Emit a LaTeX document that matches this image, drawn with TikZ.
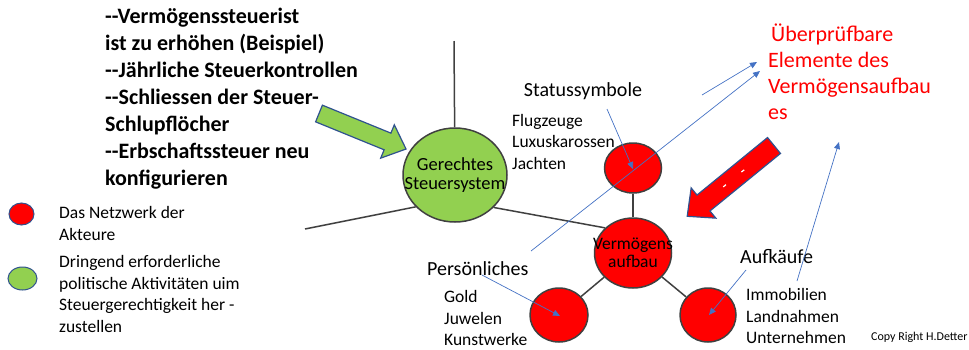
\documentclass[tikz,border=0pt]{standalone}
\usepackage{fontspec}
\setmainfont{Carlito}
\usetikzlibrary{shapes.geometric,arrows.meta}

\definecolor{netzred}{RGB}{255,0,0}
\definecolor{aktgreen}{RGB}{146,208,80}
\definecolor{rimgray}{RGB}{64,64,64}
\definecolor{ptrblue}{RGB}{68,114,196}
\definecolor{arrowrim}{RGB}{47,82,143}

\begin{document}
\begin{tikzpicture}[x=1pt, y=-1pt,
  ball/.style={ellipse, draw=rimgray, line width=1.5pt, inner sep=0pt},
  redball/.style={ball, fill=netzred},
  greenball/.style={ball, fill=aktgreen},
  balltext/.style={align=center, inner sep=0pt, font=\fontsize{#1}{18.5}\selectfont},
  keyball/.style={ellipse, draw=arrowrim, line width=1pt, inner sep=0pt},
  link/.style={draw=rimgray, line width=1.5pt},
  pointer/.style={draw=ptrblue, line width=0.7pt, -{Triangle[length=7pt,width=6pt]}},
  bigtext/.style={font=\fontsize{20}{24}\selectfont, inner sep=0pt},
  smalltext/.style={font=\fontsize{17.5}{21.5}\selectfont, align=left, anchor=west, inner sep=0pt},
  blockarrow/.style={draw=arrowrim, line width=1.2pt, line join=miter}]
    \useasboundingbox (0,0) rectangle (969,349);

    % Knoten
    \node[greenball, minimum width=104pt, minimum height=94pt,
      label={[balltext=18.5]center:Gerechtes\\Steuersystem}] (gerecht) at (455,175) {};
    \node[redball, minimum width=57pt, minimum height=50pt] (status) at (633,168) {};
    \node[redball, minimum width=77pt, minimum height=70pt,
      label={[balltext=17.5]center:Vermögens\\aufbau}] (verm) at (633,253) {};
    \node[redball, minimum width=58pt, minimum height=54pt] (pers) at (559,315) {};
    \node[redball, minimum width=56pt, minimum height=54pt] (auf) at (708,315) {};

    \coordinate (topend) at (454,41);
    \coordinate (leftend) at (305,229);

    \draw[link] (gerecht) -- (topend);
    \draw[link] (gerecht.219) -- (leftend);
    \draw[link] (gerecht.320) -- (verm.138);
    \draw[link] (status) -- (verm);
    \draw[link] (verm) -- (pers);
    \draw[link] (verm) -- (auf);

    % Legende
    \node[keyball, fill=netzred, minimum width=25pt, minimum height=22pt] (keyred) at (21.5,214) {};
    \node[keyball, fill=aktgreen, minimum width=29pt, minimum height=23pt] (keygreen) at (22.5,278.5) {};
    \node[smalltext] (keyredtxt) at (59,223.5) {Das Netzwerk der\\Akteure};
    \node[smalltext] (keygreentxt) at (59,294) {Dringend erforderliche\\politische Aktivitäten uim\\Steuergerechtigkeit her -\\zustellen};

    % Forderungen
    \node[font=\bfseries\fontsize{22}{27}\selectfont, align=left, anchor=west, inner sep=0pt] (forder) at (105,99)
      {-{}-Vermögenssteuerist\\ist zu erhöhen (Beispiel)\\-{}-Jährliche Steuerkontrollen\\-{}-Schliessen der Steuer-\\Schlupflöcher\\-{}-Erbschaftssteuer neu\\konfigurieren};
    \node[font=\fontsize{22}{26}\selectfont, text=netzred, align=left, anchor=west, inner sep=0pt] (pruef) at (768,71.5)
      {\hspace{3pt}Überprüfbare\\Elemente des\\Vermögensaufbau\\es};

    % Beschriftungen
    \node[bigtext] (statuslbl) at (583,91) {Statussymbole};
    \node[smalltext] (statuslist) at (512,141.5) {Flugzeuge\\Luxuskarossen\\Jachten};
    \node[bigtext, anchor=west] (perslbl) at (427,269) {Persönliches};
    \node[smalltext] (perslist) at (444,318) {Gold\\Juwelen\\Kunstwerke};
    \node[bigtext, anchor=west] (auflbl) at (740,257) {Aufkäufe};
    \node[smalltext] (auflist) at (746,316) {Immobilien\\Landnahmen\\Unternehmen};
    \node[font=\fontsize{12}{14}\selectfont, anchor=west, inner sep=0pt] (copy) at (871,337) {Copy Right H.Detter};

    % Blockpfeile
    \begin{scope}[shift={(319,113.5)}, rotate=-22.2]
      \draw[blockarrow, fill=aktgreen] (0,-9) -- (74,-9) -- (74,-18) -- (94,0) -- (74,18) -- (74,9) -- (0,9) -- cycle;
    \end{scope}
    \begin{scope}[shift={(774,145.5)}, rotate=219.2]
      \draw[blockarrow, fill=netzred] (0,-10.25) -- (91,-10.25) -- (91,-19.5) -- (112,0) -- (91,19.5) -- (91,10.25) -- (0,10.25) -- cycle;
      \draw[white, line width=1.2pt] (38.5,0) -- (42,0);
      \draw[white, line width=1.2pt] (62,0) -- (65.5,0);
    \end{scope}

    % Hinweispfeile
    \coordinate (p1a) at (702,95);  \coordinate (p1b) at (757,62);
    \coordinate (p2a) at (531,251); \coordinate (p2b) at (760,71);
    \coordinate (p3a) at (607,109); \coordinate (p3b) at (633,169);
    \coordinate (p4a) at (482,275); \coordinate (p4b) at (560,316);
    \coordinate (p5a) at (746,270); \coordinate (p5b) at (709,315);
    \coordinate (p6a) at (797,281); \coordinate (p6b) at (839,142);
    \foreach \n in {1,...,6}
      \draw[pointer] (p\n a) -- (p\n b);
\end{tikzpicture}
\end{document}
